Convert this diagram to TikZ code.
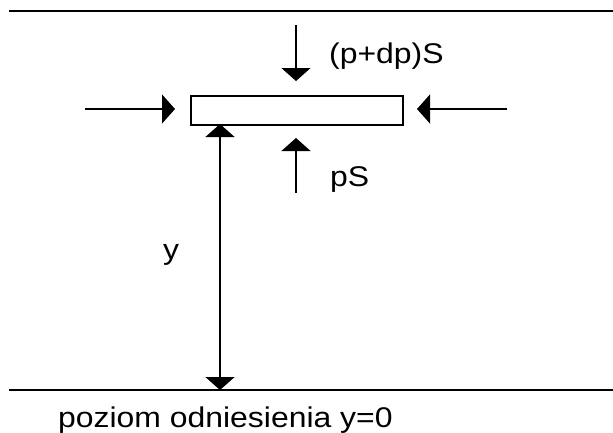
\documentclass[tikz,border=0pt]{standalone}
\usepackage{fontspec}
\setmainfont{Liberation Sans}
\newfontfamily\labfont[FakeStretch=1.12]{Liberation Sans}
\usetikzlibrary{arrows.meta}
\tikzset{
 px/.style={x=1pt,y=-1pt},
 rule/.style={line width=2pt,black},
 arr/.style={line width=1.2pt,black,-{Triangle[width=29pt,length=13pt]}},
 darr/.style={line width=1.2pt,black,{Triangle[width=29pt,length=13pt]}-{Triangle[width=29pt,length=13pt]}},
 lab/.style={font=\labfont\fontsize{28.5}{30}\selectfont,inner sep=0pt,anchor=base west,text=black}
}
\begin{document}
\begin{tikzpicture}[px]
\useasboundingbox (0,0) rectangle (613,432);
\fill[white] (0,0) rectangle (613,432);
\coordinate (tl) at (9,11); \coordinate (tr) at (613,11);
\coordinate (bl) at (9,390); \coordinate (br) at (613,390);
\draw[rule] (tl) -- (tr);
\draw[rule] (bl) -- (br);
\node[draw,line width=1.8pt,minimum width=212pt,minimum height=29pt,inner sep=0pt,anchor=north west] (plate) at (190,95) {};
\coordinate (a1) at (296,25); \coordinate (a1e) at (296,81);
\coordinate (a2) at (296,193); \coordinate (a2e) at (296,138);
\coordinate (a3) at (85,109); \coordinate (a3e) at (175,109);
\coordinate (a4) at (507,109); \coordinate (a4e) at (417,109);
\coordinate (d1) at (220,124); \coordinate (d2) at (220,390);
\draw[arr] (a1) -- (a1e);
\draw[arr] (a2) -- (a2e);
\draw[arr] (a3) -- (a3e);
\draw[arr] (a4) -- (a4e);
\draw[darr] (d1) -- (d2);
\node[lab] (l1) at (329,63) {(p+dp)S};
\node[lab] (l2) at (330,186) {pS};
\node[lab] (l3) at (163,259) {y};
\node[lab] (l4) at (58,427) {poziom odniesienia y=0};
\end{tikzpicture}
\end{document}
